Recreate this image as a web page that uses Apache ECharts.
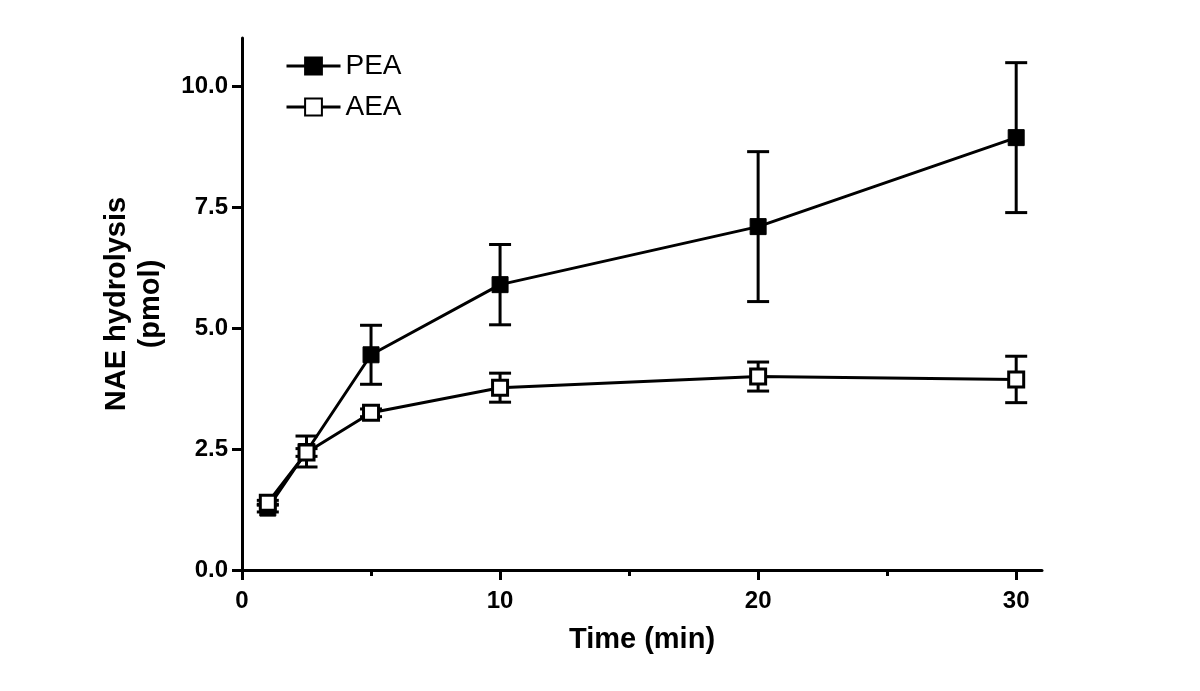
<!DOCTYPE html>
<html>
<head>
<meta charset="utf-8">
<script src="https://cdn.jsdelivr.net/npm/echarts@6/dist/echarts.min.js"></script>
<style>html,body{margin:0;padding:0;background:#fff}#c{width:1200px;height:691px}</style>
</head>
<body>
<div id="c"></div>
<script>
const times = [1, 2.5, 5, 10, 20, 30];
const peaMean = [1.28, 2.45, 4.45, 5.90, 7.10, 8.94];
const peaErr  = [0.08, 0.32, 0.61, 0.83, 1.55, 1.55];
const aeaMean = [1.39, 2.43, 3.25, 3.77, 4.00, 3.94];
const aeaErr  = [0.05, 0.08, 0.08, 0.30, 0.30, 0.48];
const xMajorTicks = [0, 10, 20, 30];
const xMinorTicks = [5, 15, 25];
const yTicks = [0, 2.5, 5, 7.5, 10];

const FONT = 'Liberation Sans, Arial, sans-serif';

function errData(means, errs) {
  return times.map((t, i) => [t, means[i] - errs[i], means[i] + errs[i]]);
}
function errRender(params, api) {
  const x = api.value(0);
  const lo = api.coord([x, api.value(1)]);
  const hi = api.coord([x, api.value(2)]);
  const hw = 11;
  const style = {stroke: '#000', lineWidth: 3, fill: null};
  return {
    type: 'group',
    children: [
      {type: 'line', shape: {x1: lo[0], y1: lo[1], x2: hi[0], y2: hi[1]}, style},
      {type: 'line', shape: {x1: lo[0] - hw, y1: lo[1], x2: lo[0] + hw, y2: lo[1]}, style},
      {type: 'line', shape: {x1: hi[0] - hw, y1: hi[1], x2: hi[0] + hw, y2: hi[1]}, style}
    ]
  };
}

const chart = echarts.init(document.getElementById('c'));
chart.setOption({
  animation: false,
  backgroundColor: '#fff',
  grid: {left: 242, right: 158, top: 38, bottom: 121},
  legend: {
    orient: 'vertical',
    left: 280, top: 47,
    itemWidth: 54, itemHeight: 21, itemGap: 13,
    lineStyle: {width: 3},
    textStyle: {fontFamily: FONT, fontSize: 28, color: '#000'},
    data: ['PEA', 'AEA']
  },
  xAxis: [{
    type: 'value', min: 0, max: 31,
    name: 'Time (min)', nameLocation: 'middle', nameGap: 55,
    nameTextStyle: {fontFamily: FONT, fontSize: 29, fontWeight: 'bold', color: '#000'},
    axisLine: {onZero: false, lineStyle: {color: '#000', width: 3}},
    axisTick: {show: true, length: 10, lineStyle: {color: '#000', width: 3}, customValues: xMajorTicks},
    axisLabel: {fontFamily: FONT, fontSize: 24, fontWeight: 'bold', color: '#000', margin: 19, customValues: xMajorTicks},
    splitLine: {show: false}
  }, {
    type: 'value', min: 0, max: 31, position: 'bottom',
    axisLine: {show: false},
    axisTick: {show: true, length: 6, lineStyle: {color: '#000', width: 3}, customValues: xMinorTicks},
    axisLabel: {show: false},
    splitLine: {show: false}
  }],
  yAxis: {
    type: 'value', min: 0, max: 11,
    name: 'NAE hydrolysis\n(pmol)', nameLocation: 'middle', nameGap: 74,
    nameTextStyle: {fontFamily: FONT, fontSize: 29, fontWeight: 'bold', color: '#000', lineHeight: 34},
    axisLine: {show: true, onZero: false, lineStyle: {color: '#000', width: 3}},
    axisTick: {show: true, length: 10, lineStyle: {color: '#000', width: 3}, customValues: yTicks},
    axisLabel: {fontFamily: FONT, fontSize: 24, fontWeight: 'bold', color: '#000', margin: 14,
      customValues: yTicks, formatter: v => v.toFixed(1)},
    splitLine: {show: false}
  },
  series: [
    {name: 'PEA err', type: 'custom', renderItem: errRender, data: errData(peaMean, peaErr), z: 1, silent: true},
    {name: 'AEA err', type: 'custom', renderItem: errRender, data: errData(aeaMean, aeaErr), z: 1, silent: true},
    {
      name: 'PEA', type: 'line', data: times.map((t, i) => [t, peaMean[i]]),
      symbol: 'rect', symbolSize: 16, showAllSymbol: true, z: 3,
      lineStyle: {color: '#000', width: 3},
      itemStyle: {color: '#000', borderColor: '#000', borderWidth: 1}
    },
    {
      name: 'AEA', type: 'line', data: times.map((t, i) => [t, aeaMean[i]]),
      symbol: 'rect', symbolSize: 15, showAllSymbol: true, z: 4,
      lineStyle: {color: '#000', width: 3},
      itemStyle: {color: '#fff', borderColor: '#000', borderWidth: 3}
    }
  ]
});
</script>
</body>
</html>
